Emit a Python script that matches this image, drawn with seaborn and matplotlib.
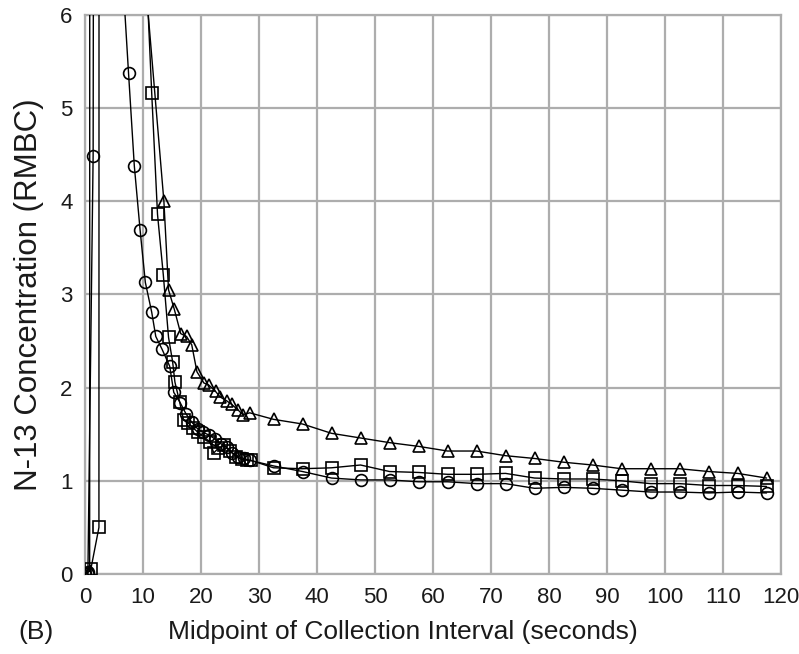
import matplotlib
matplotlib.use("Agg")
import matplotlib.pyplot as plt
import seaborn as sns
import pandas as pd

# ---- data ----
circle_x = [0, 0.5, 1.4, 2.3, 6.5, 7.5, 8.5, 9.5, 10.4, 11.5, 12.2, 13.3, 14.6, 15.3,
            16.4, 17.4, 18.4, 19.4, 20.4, 21.4, 22.4, 23.4, 24.4, 25.4, 26.4, 27.4, 28.4,
            32.5, 37.5, 42.5, 47.5, 52.5, 57.5, 62.5, 67.5, 72.5, 77.5, 82.5, 87.5,
            92.5, 97.5, 102.5, 107.5, 112.5, 117.5]
circle_y = [0, 0.02, 4.49, 45, 6.41, 5.38, 4.38, 3.69, 3.13, 2.81, 2.55, 2.41, 2.23, 1.95,
            1.84, 1.72, 1.63, 1.56, 1.52, 1.49, 1.45, 1.40, 1.36, 1.30, 1.26, 1.24, 1.22,
            1.16, 1.10, 1.03, 1.01, 1.01, 0.99, 0.99, 0.97, 0.97, 0.92, 0.93, 0.92,
            0.90, 0.88, 0.88, 0.87, 0.88, 0.87]

square_x = [0, 1.0, 2.4, 2.5, 10.5, 11.5, 12.5, 13.5, 14.4, 15.1, 15.5, 16.3, 17.0, 17.8,
            18.6, 19.5, 20.5, 21.5, 22.2, 23.0, 24.0, 25.0, 26.0, 27.0, 28.0, 28.6,
            32.5, 37.5, 42.5, 47.5, 52.5, 57.5, 62.5, 67.5, 72.5, 77.5, 82.5, 87.5,
            92.5, 97.5, 102.5, 107.5, 112.5, 117.5]
square_y = [0, 0.05, 0.5, 45, 6.56, 5.16, 3.86, 3.21, 2.54, 2.28, 2.06, 1.85, 1.65, 1.62,
            1.57, 1.52, 1.47, 1.42, 1.30, 1.35, 1.38, 1.32, 1.26, 1.23, 1.22, 1.22,
            1.14, 1.13, 1.14, 1.17, 1.10, 1.09, 1.07, 1.07, 1.08, 1.03, 1.02, 1.02,
            1.00, 0.97, 0.97, 0.95, 0.95, 0.94]

triangle_x = [0, 0.8, 0.9, 10.5, 13.6, 14.4, 15.4, 16.5, 17.5, 18.4, 19.3, 20.5, 21.3,
              22.5, 23.3, 24.4, 25.3, 26.4, 27.2, 28.4, 32.5, 37.5, 42.5, 47.5, 52.5,
              57.5, 62.5, 67.5, 72.5, 77.5, 82.5, 87.5, 92.5, 97.5, 102.5, 107.5,
              112.5, 117.5]
triangle_y = [0, 0.03, 45, 6.3, 4.0, 3.05, 2.84, 2.58, 2.55, 2.46, 2.17, 2.05, 2.03,
              1.96, 1.90, 1.86, 1.82, 1.76, 1.71, 1.73, 1.66, 1.61, 1.51, 1.46, 1.41,
              1.37, 1.32, 1.32, 1.27, 1.24, 1.20, 1.17, 1.13, 1.13, 1.13, 1.10,
              1.08, 1.03]

x_ticks = list(range(0, 121, 10))
y_ticks = list(range(0, 7))

df = pd.concat([
    pd.DataFrame({"t": circle_x, "c": circle_y, "series": "circle"}),
    pd.DataFrame({"t": square_x, "c": square_y, "series": "square"}),
    pd.DataFrame({"t": triangle_x, "c": triangle_y, "series": "triangle"}),
], ignore_index=True)

sns.set_style("white")
plt.rcParams["font.family"] = ["Liberation Sans", "DejaVu Sans"]

fig = plt.figure(figsize=(7.99, 6.54), dpi=100)
ax = fig.add_axes([0.1064, 0.1223, 0.8711, 0.8548])

sns.lineplot(data=df, x="t", y="c", style="series",
             markers={"circle": "o", "square": "s", "triangle": "^"},
             dashes=False, color="black", estimator=None, sort=False,
             markersize=8.5, markerfacecolor="none", markeredgecolor="black",
             markeredgewidth=1.2, linewidth=1.0, legend=False, ax=ax, zorder=3)

ax.set_xlim(0, 120)
ax.set_ylim(0, 6)
ax.set_xticks(x_ticks)
ax.set_yticks(y_ticks)
ax.grid(True, color="#adadad", linewidth=1.6, zorder=0)
ax.set_axisbelow(True)
for s in ax.spines.values():
    s.set_color("#adadad")
    s.set_linewidth(1.6)
ax.tick_params(axis="both", which="major", direction="out", length=6, width=1.2,
               color="#adadad", labelsize=16, labelcolor="#1a1a1a", pad=3)
ax.set_xlabel("")
ax.set_ylabel("")
fig.text(403 / 799, 1 - 632 / 654, "Midpoint of Collection Interval (seconds)",
         fontsize=19, color="#1a1a1a", ha="center", va="center")
fig.text(29 / 799, 1 - 295 / 654, "N-13 Concentration (RMBC)", rotation=90,
         fontsize=22.5, color="#1a1a1a", ha="center", va="center")
fig.text(18 / 799, 1 - 632 / 654, "(B)", fontsize=19, color="#1a1a1a",
         va="center", ha="left")

fig.savefig("out.png", dpi=100)
